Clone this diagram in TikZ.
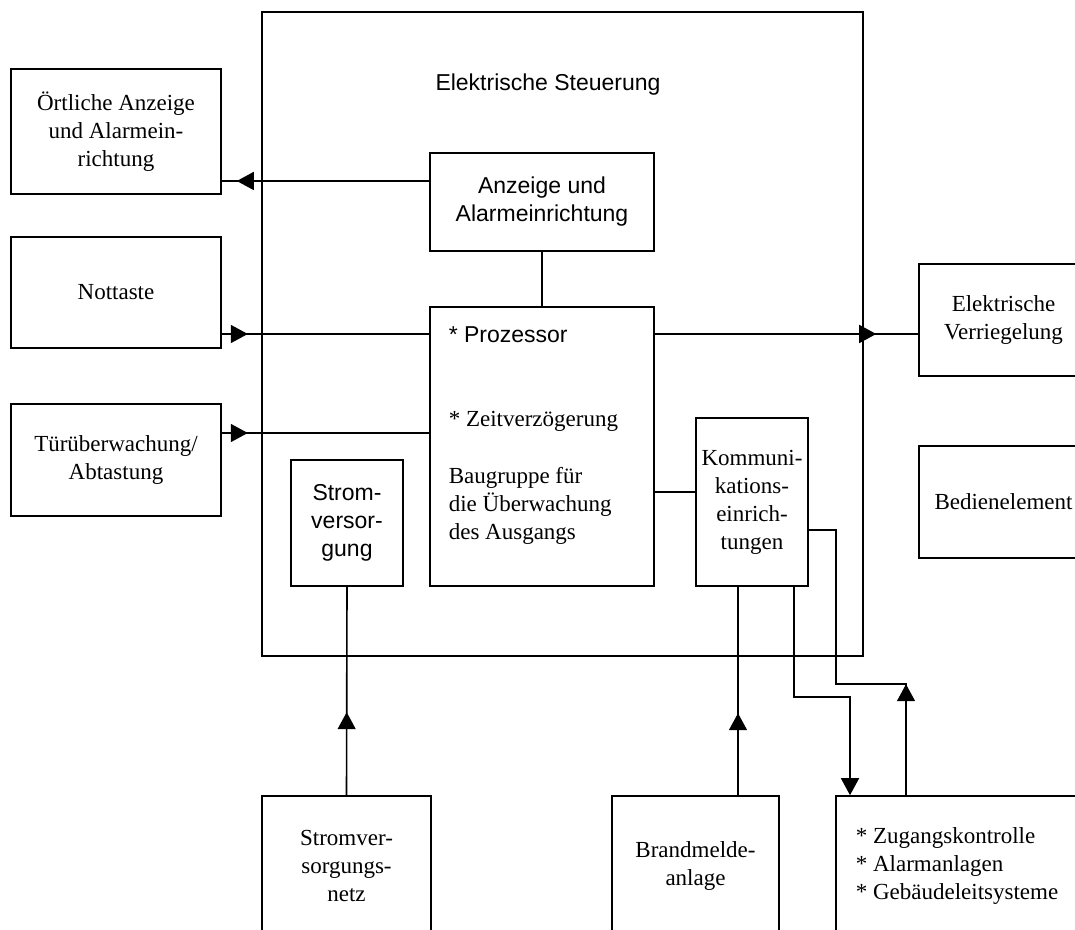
\documentclass[tikz,border=0pt]{standalone}
\usepackage{fontspec}
\setmainfont{Liberation Serif}
\newfontfamily\arial{Liberation Sans}
\usetikzlibrary{arrows.meta,decorations.markings}

\tikzset{
	box/.style={draw, line width=0.8pt, inner sep=0pt, align=center},
	txt/.style={anchor=west, inner sep=0pt, align=left},
	arrowpos/.style={postaction={decorate}, decoration={markings,
		mark=at position #1 with {\arrow{Triangle[length=8.5pt,width=9pt]}}}}
}

\begin{document}
\begin{tikzpicture}[x=0.5pt, y=-0.5pt, line width=0.8pt,
		font=\fontsize{11.5}{14}\selectfont]
		\clip (0,0) rectangle (1075,930);

		% Elektrische Steuerung
		\node[box, minimum width=300.5pt, minimum height=322pt] (steuerung) at (562.5,334) {};
		\node (titel) at (548,85) {\arial Elektrische Steuerung};
		\node[box, minimum width=112pt, minimum height=49pt] (anzeige) at (542,202) {\arial Anzeige und\\ \arial Alarmeinrichtung};
		\node[box, minimum width=112pt, minimum height=139.5pt] (proz) at (542,446.5) {};
		\node[txt] (prozessor) at (448,335) {\arial * Prozessor};
		\node[txt] (zeit) at (448,421) {* Zeitverzögerung};
		\node[txt] (baugruppe) at (448,506) {Baugruppe für\\ die Überwachung\\ des Ausgangs};
		\node[box, minimum width=56pt, minimum height=63pt] (strom) at (347,523) {\arial Strom-\\ \arial versor-\\ \arial gung};
		\node[box, minimum width=56pt, minimum height=84pt] (komm) at (752,502) {Kommuni-\\ kations-\\ einrich-\\ tungen};

		% links
		\node[box, minimum width=105pt, minimum height=62.5pt] (oertlich) at (116,131.5) {Örtliche Anzeige\\ und Alarmein-\\ richtung};
		\node[box, minimum width=105pt, minimum height=55.5pt] (nottaste) at (116,292.5) {Nottaste};
		\node[box, minimum width=105pt, minimum height=56pt] (tuer) at (116,460) {Türüberwachung/\\ Abtastung};

		% rechts
		\node[box, minimum width=84.5pt, minimum height=56pt] (verr) at (1003.5,320) {Elektrische\\ Verriegelung};
		\node[box, minimum width=84.5pt, minimum height=56pt] (bedien) at (1003.5,502) {Bedienelement};

		% unten
		\node[box, minimum width=84.5pt, minimum height=70pt] (netz) at (346.5,866) {Stromver-\\ sorgungs-\\ netz};
		\node[box, minimum width=83.5pt, minimum height=70pt] (brand) at (695.5,866) {Brandmelde-\\ anlage};
		\node[box, minimum width=132pt, minimum height=70pt] (zugang) at (968,866) {};
		\node[txt] (systeme) at (855,866) {* Zugangskontrolle\\ * Alarmanlagen\\ * Gebäudeleitsysteme};

		% Verbindungen
		\draw[arrowpos=-7.5pt] (anzeige.west |- 0,181) -- (oertlich.east |- 0,181);
		\draw[arrowpos=13pt] (nottaste.east |- 0,334) -- (proz.west |- 0,334);
		\draw[arrowpos=13pt] (tuer.east |- 0,433) -- (proz.west |- 0,433);
		\draw[arrowpos=-21pt] (proz.east |- 0,334) -- (verr.west |- 0,334);
		\draw (anzeige.south) -- (proz.north);
		\draw (proz.east |- 0,492) -- (komm.west |- 0,492);
		\draw[arrowpos=41.5pt] (netz.north) -- (strom.south);
		\draw[arrowpos=41pt] (brand.north -| 738,0) -- (komm.south -| 738,0);
		\draw[-{Triangle[length=8.5pt,width=9pt]}] (komm.south -| 794,0) -- (794,697) -- (850,697) -- (zugang.north -| 850,0);
		\draw[arrowpos=55.5pt] (zugang.north -| 906,0) -- (906,684) -- (836,684) -- (836,530) -- (komm.east |- 0,530);
	\end{tikzpicture}
\end{document}
